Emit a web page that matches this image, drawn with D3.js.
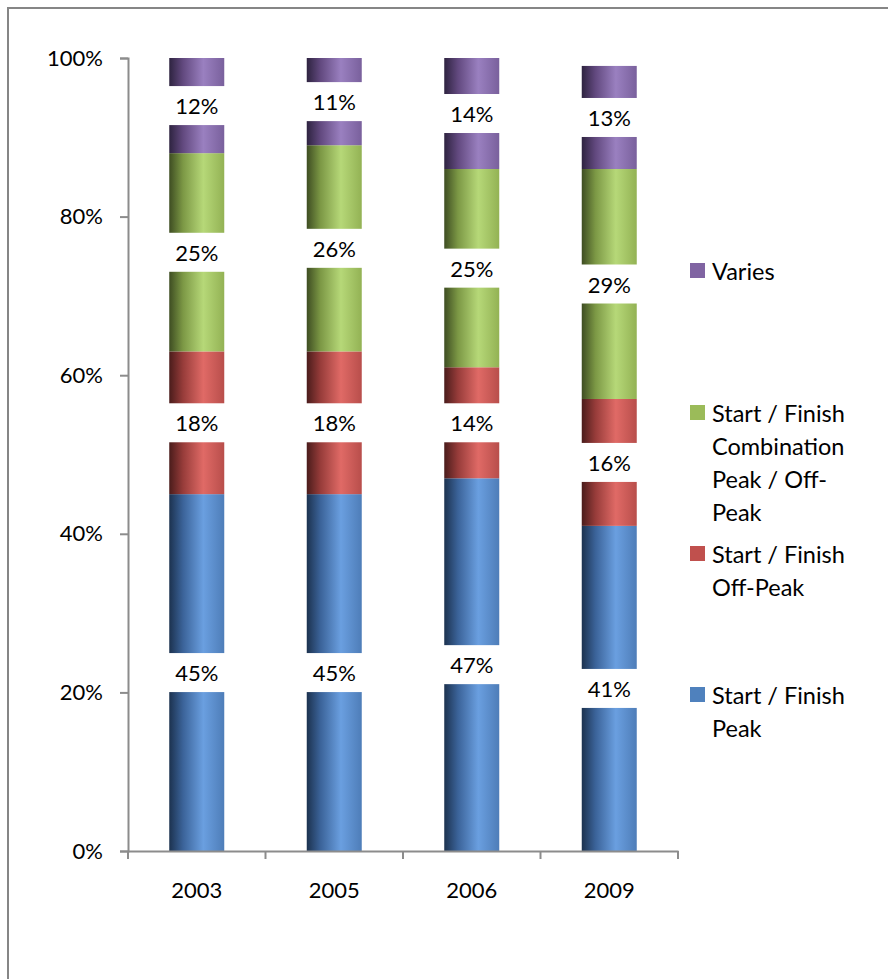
<!DOCTYPE html>
<html>
<head>
<meta charset="utf-8">
<script src="https://cdn.jsdelivr.net/npm/d3@7/dist/d3.min.js"></script>
<style>
  html, body { margin: 0; padding: 0; background: #fff; }
  svg { display: block; }
  text { font-family: Lato, "Open Sans", sans-serif; fill: #000; }
</style>
</head>
<body>
<svg id="chart" width="888" height="979"></svg>
<script>
// Survey years (x categories)
const years = ["2003", "2005", "2006", "2009"];

// Series, stacked bottom to top (percent of respondents)
const peak        = [45, 45, 47, 41];
const offPeak     = [18, 18, 14, 16];
const combination = [25, 26, 25, 29];
const varies      = [12, 11, 14, 13];

const seriesNames = [
  "Start / Finish Peak",
  "Start / Finish Off-Peak",
  "Start / Finish Combination Peak / Off-Peak",
  "Varies"
];
const legendLines = [
  ["Start / Finish", "Peak"],
  ["Start / Finish", "Off-Peak"],
  ["Start / Finish", "Combination", "Peak / Off-", "Peak"],
  ["Varies"]
];
const yTicks = [0, 20, 40, 60, 80, 100];

const colors = ["#4f81bd", "#c0504d", "#9bbb59", "#8064a2"];
// Cylinder-like shading for each series: dark left edge, highlight, mid right edge
const shades = [
  ["#1c324f", "#3b6399", "#6a9fe0", "#4e7db8"],
  ["#4a1c1b", "#973c3a", "#e06a66", "#b84e4b"],
  ["#3e4d22", "#7c9845", "#b6d878", "#93b254"],
  ["#2e2340", "#62497f", "#9a80c0", "#79609c"]
];

const rows = years.map((y, i) => ({
  year: y,
  s0: peak[i], s1: offPeak[i], s2: combination[i], s3: varies[i]
}));
const keys = ["s0", "s1", "s2", "s3"];
const stacked = d3.stack().keys(keys)(rows);

const svg = d3.select("#chart");

// Outer frame
svg.append("rect")
  .attr("x", 8).attr("y", 8).attr("width", 900).attr("height", 1000)
  .attr("fill", "none").attr("stroke", "#868686").attr("stroke-width", 2);

const defs = svg.append("defs");
shades.forEach((s, i) => {
  const g = defs.append("linearGradient")
    .attr("id", "grad" + i)
    .attr("x1", "0%").attr("x2", "100%").attr("y1", "0%").attr("y2", "0%");
  g.append("stop").attr("offset", "0%").attr("stop-color", s[0]);
  g.append("stop").attr("offset", "25%").attr("stop-color", s[1]);
  g.append("stop").attr("offset", "62%").attr("stop-color", s[2]);
  g.append("stop").attr("offset", "100%").attr("stop-color", s[3]);
});

const plot = { left: 128, right: 678, top: 58, bottom: 851 };

const x = d3.scaleBand().domain(years).range([plot.left, plot.right]).paddingInner(0.6).paddingOuter(0.3);
const y = d3.scaleLinear().domain([0, 100]).range([plot.bottom, plot.top]);

// Bars
const layers = svg.append("g").selectAll("g").data(stacked).join("g")
  .attr("fill", (d, i) => `url(#grad${i})`);

layers.selectAll("rect").data(d => d).join("rect")
  .attr("x", d => x(d.data.year))
  .attr("width", x.bandwidth())
  .attr("y", d => y(d[1]))
  .attr("height", d => y(d[0]) - y(d[1]));

// Value labels on white boxes
const labelG = svg.append("g");
stacked.forEach((layer, i) => {
  layer.forEach(d => {
    const v = d[1] - d[0];
    const cx = x(d.data.year) + x.bandwidth() / 2;
    const cy = y((d[0] + d[1]) / 2);
    labelG.append("rect")
      .attr("x", cx - 33).attr("y", cy - 19.5)
      .attr("width", 66).attr("height", 39)
      .attr("fill", "#fff");
    labelG.append("text")
      .attr("x", cx).attr("y", cy)
      .attr("text-anchor", "middle")
      .attr("dominant-baseline", "central")
      .attr("font-size", 22)
      .text(v + "%");
  });
});

// Y axis
const yAxis = d3.axisLeft(y).tickValues(yTicks).tickFormat(d => d + "%").tickSize(8).tickPadding(17);
const yg = svg.append("g").attr("transform", `translate(${plot.left},0)`).call(yAxis);
yg.select(".domain").attr("stroke", "#8c8c8c").attr("stroke-width", 2);
yg.selectAll(".tick line").attr("stroke", "#8c8c8c").attr("stroke-width", 2);
yg.selectAll(".tick text").attr("font-size", 22).attr("font-family", "Lato, sans-serif");

// X axis with boundary ticks between categories
const xAxis = d3.axisBottom(x).tickSize(0).tickPadding(31);
const xg = svg.append("g").attr("transform", `translate(0,${plot.bottom})`).call(xAxis);
xg.select(".domain").attr("stroke", "#8c8c8c").attr("stroke-width", 2);
xg.selectAll(".tick text").attr("font-size", 22).attr("font-family", "Lato, sans-serif");
const bounds = d3.range(years.length + 1).map(i => plot.left + i * (plot.right - plot.left) / years.length);
xg.selectAll("line.bound").data(bounds).join("line")
  .attr("class", "bound")
  .attr("x1", d => d).attr("x2", d => d)
  .attr("y1", 0).attr("y2", 8)
  .attr("stroke", "#8c8c8c").attr("stroke-width", 2);

// Legend (top entry is the top series)
const legendY = [695, 554, 413, 271];
const legend = svg.append("g");
seriesNames.forEach((name, i) => {
  const g = legend.append("g").attr("transform", `translate(690,${legendY[i]})`);
  g.append("rect").attr("x", 0).attr("y", -8).attr("width", 15).attr("height", 15).attr("fill", colors[i]);
  legendLines[i].forEach((line, j) => {
    g.append("text")
      .attr("x", 22).attr("y", j * 33)
      .attr("dominant-baseline", "central")
      .attr("font-size", 23.5)
      .text(line);
  });
});
</script>
</body>
</html>
